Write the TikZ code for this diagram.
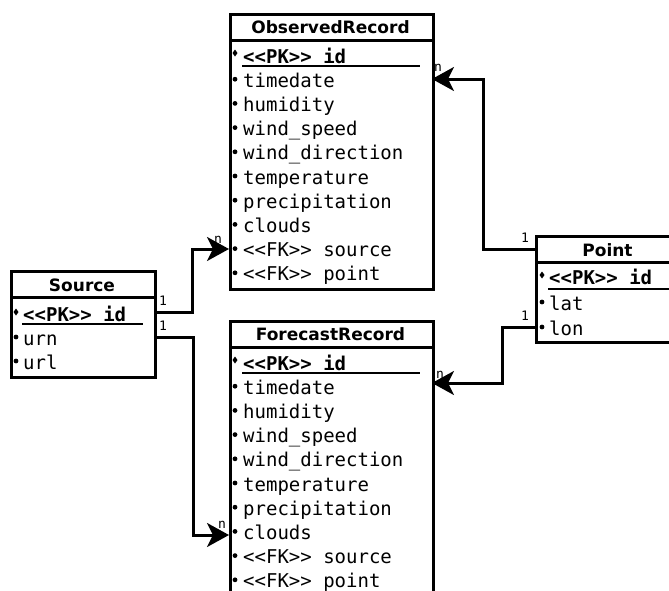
\documentclass[tikz,border=0pt]{standalone}
\usepackage{fontspec}
\setmainfont{DejaVu Sans}
\newfontfamily\monofont{DejaVu Sans Mono}
\usetikzlibrary{arrows.meta,calc}
\tikzset{
  entity/.style={draw, line width=3pt, minimum width=#1, inner sep=0pt, anchor=north west},
  headrule/.style={line width=3pt},
  title/.style={font=\bfseries\fontsize{17}{17}\selectfont, anchor=base, inner sep=0pt},
  attr/.style={font=\monofont\fontsize{19}{19}\selectfont, anchor=base west, inner sep=0pt},
  pkattr/.style={font=\monofont\bfseries\fontsize{19}{19}\selectfont, anchor=base west, inner sep=0pt},
  pkline/.style={line width=2pt},
  mult/.style={font=\monofont\fontsize{13}{13}\selectfont, inner sep=0pt},
  conn/.style={line width=3pt, -{Stealth[length=22pt,width=24pt,inset=6pt]}},
  bul/.style={fill=black},
}
\newcommand{\bull}[2]{\fill[bul] (#1,#2) circle (2.4pt);}
\newcommand{\diam}[2]{\fill[bul] (#1,#2-3.5) -- (#1+2.5,#2) -- (#1,#2+3.5) -- (#1-2.5,#2) -- cycle;}
\begin{document}
\begin{tikzpicture}[x=1pt,y=-1pt]
\useasboundingbox (0,0) rectangle (669,590);
\clip (0,0) rectangle (669,590);

% ---------- ObservedRecord ----------
\node[entity=203pt, minimum height=275pt] (obs) at (229,13) {};
\draw[headrule] ([yshift=-27pt]obs.north west) -- ([yshift=-27pt]obs.north east);
\node[title] (obs-t) at (330.5,33) {ObservedRecord};
\diam{235}{53}
\node[pkattr] (obs-id) at (243,63) {<<PK>> id};
\draw[pkline] (242,66) -- (420,66);
\foreach \t [count=\i] in {timedate,humidity,wind\_speed,wind\_direction,temperature,precipitation,clouds,<<FK>> source,<<FK>> point}{
  \pgfmathsetmacro{\yy}{63+24.2*\i}
  \bull{235}{\yy-8}
  \node[attr] (obs-a\i) at (243,\yy) {\t};
}

% ---------- ForecastRecord ----------
\node[entity=203pt, minimum height=300pt] (fc) at (229,320) {};
\draw[headrule] ([yshift=-27pt]fc.north west) -- ([yshift=-27pt]fc.north east);
\node[title] (fc-t) at (330.5,340) {ForecastRecord};
\diam{235}{360}
\node[pkattr] (fc-id) at (243,370) {<<PK>> id};
\draw[pkline] (242,373) -- (420,373);
\foreach \t [count=\i] in {timedate,humidity,wind\_speed,wind\_direction,temperature,precipitation,clouds,<<FK>> source,<<FK>> point}{
  \pgfmathsetmacro{\yy}{370+24.2*\i}
  \bull{235}{\yy-8}
  \node[attr] (fc-a\i) at (243,\yy) {\t};
}

% ---------- Source ----------
\node[entity=144pt, minimum height=106pt] (src) at (10,270) {};
\draw[headrule] ([yshift=-27pt]src.north west) -- ([yshift=-27pt]src.north east);
\node[title] (src-t) at (82,291) {Source};
\diam{16}{312}
\node[pkattr] (src-id) at (23,321) {<<PK>> id};
\draw[pkline] (22,324) -- (143,324);
\bull{16}{337}
\node[attr] (src-a1) at (23,345) {urn};
\bull{16}{361}
\node[attr] (src-a2) at (23,369) {url};

% ---------- Point ----------
\node[entity=145pt, minimum height=106pt] (pt) at (535,235) {};
\draw[headrule] ([yshift=-27pt]pt.north west) -- ([yshift=-27pt]pt.north east);
\node[title] (pt-t) at (607.5,256) {Point};
\diam{542}{275}
\node[pkattr] (pt-id) at (549,284) {<<PK>> id};
\draw[pkline] (548,289) -- (680,289);
\bull{542}{302}
\node[attr] (pt-a1) at (549,310) {lat};
\bull{542}{327}
\node[attr] (pt-a2) at (549,335) {lon};

% ---------- ports ----------
\coordinate (src-o1) at (154,312);
\coordinate (src-o2) at (154,337);
\coordinate (obs-i1) at (229,249);
\coordinate (fc-i1) at (229,535);
\coordinate (pt-o1) at (535,249);
\coordinate (pt-o2) at (535,327);
\coordinate (obs-i2) at (432,79);
\coordinate (fc-i2) at (432,383);

% ---------- connectors ----------
\draw[conn] (src-o1) -- ++(38,0) |- (obs-i1);
\draw[conn] (src-o2) -- ++(39,0) |- (fc-i1);
\draw[conn] (pt-o1) -- ++(-52,0) |- (obs-i2);
\draw[conn] (pt-o2) -- ++(-33,0) |- (fc-i2);

% ---------- multiplicities ----------
\node[mult] (m1) at (163,301) {1};
\node[mult] (m2) at (218,240) {n};
\node[mult] (m3) at (163,326) {1};
\node[mult] (m4) at (222,525) {n};
\node[mult] (m5) at (525,238) {1};
\node[mult] (m6) at (438,68) {n};
\node[mult] (m7) at (525,316) {1};
\node[mult] (m8) at (440,375) {n};
\end{tikzpicture}
\end{document}
